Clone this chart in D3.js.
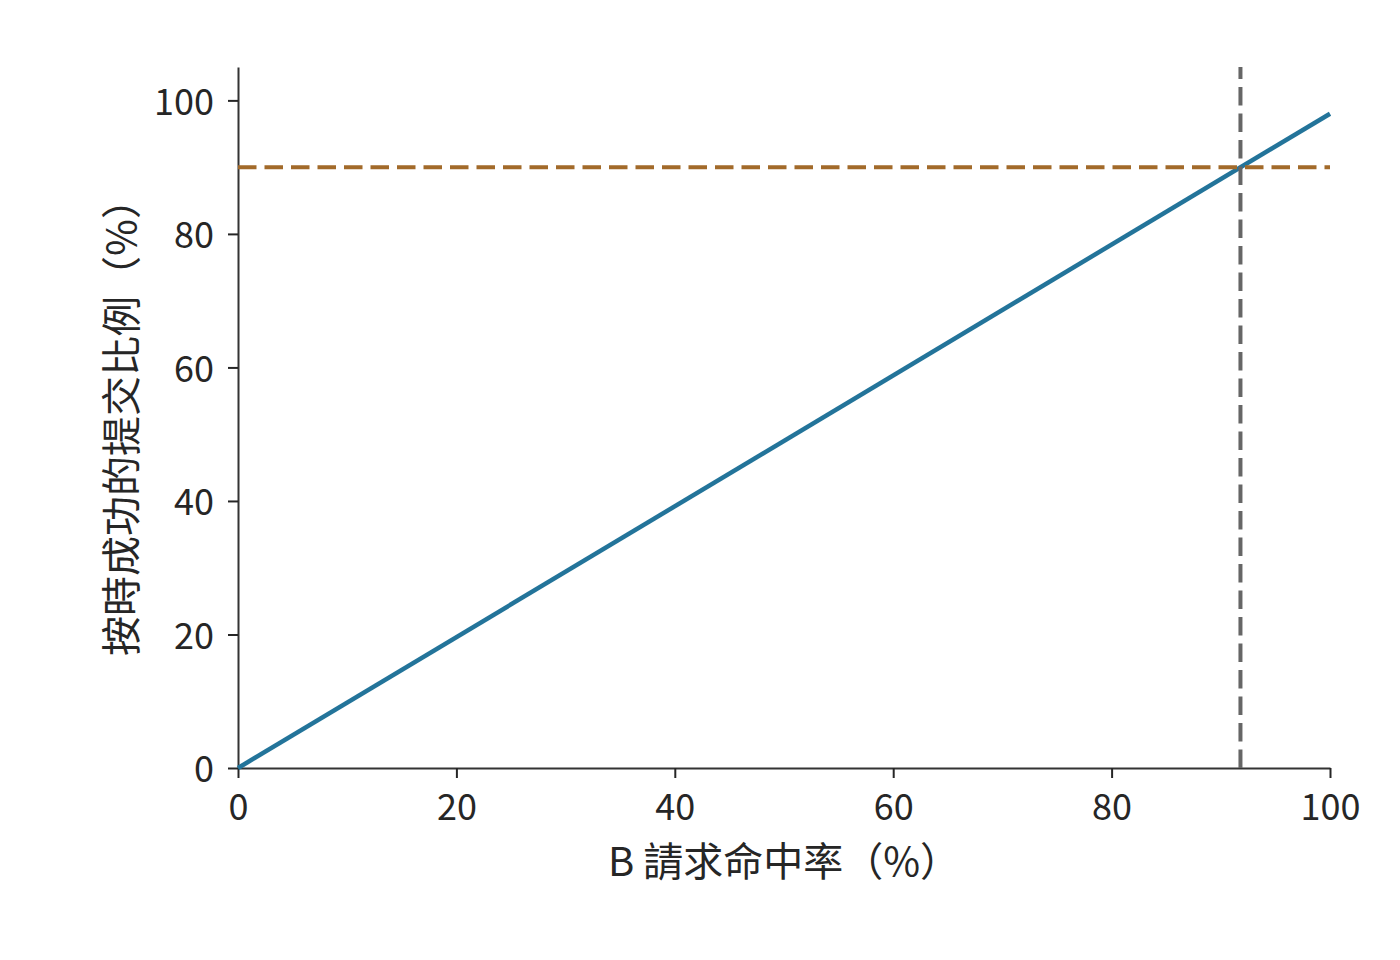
<!DOCTYPE html>
<html>
  <head>
    <meta charset="utf-8">
    <script type="text/javascript" src="https://d3js.org/d3.v7.min.js"></script>
    <style>
        body{ margin:0; background:#fff; }
        svg { display:block; }
        text { font-family: "Noto Sans CJK TC", "Noto Sans", sans-serif; fill:#262626; }
    </style>
  </head>
  <body>
    <script type="text/javascript">
      // data
      var hitRate = [0, 100];            // B 請求命中率 (%)
      var onTime  = [0, 98];             // 按時成功的提交比例 (%)
      var targetY = 90;                  // target line
      var crossX  = 91.8;                // where the line reaches the target
      var xTicks = [0, 20, 40, 60, 80, 100];
      var yTicks = [0, 20, 40, 60, 80, 100];
      var xLabel = "B 請求命中率（%）";
      var yLabel = "按時成功的提交比例（%）";

      var width = 1400, height = 960;
      var margin = {left: 238, right: 70, top: 67, bottom: 192};

      var svg = d3.select("body").append("svg")
          .attr("width", width)
          .attr("height", height);

      var x = d3.scaleLinear().domain([0, 100]).range([margin.left, width - margin.right]);
      var y = d3.scaleLinear().domain([0, 105]).range([height - margin.bottom, margin.top]);

      // x axis
      var gx = svg.append("g")
          .attr("transform", "translate(0," + y(0) + ")")
          .call(d3.axisBottom(x).tickValues(xTicks).tickSize(10).tickPadding(16).tickSizeOuter(0));
      // y axis
      var gy = svg.append("g")
          .attr("transform", "translate(" + x(0) + ",0)")
          .call(d3.axisLeft(y).tickValues(yTicks).tickSize(10).tickPadding(14).tickSizeOuter(0));

      [gx, gy].forEach(function(g){
          g.select(".domain").attr("stroke", "#333").attr("stroke-width", 2);
          g.selectAll(".tick line").attr("stroke", "#262626").attr("stroke-width", 2);
          g.selectAll(".tick text").attr("font-size", 36).attr("fill", "#262626")
            .style("font-family", "'Noto Sans CJK TC', sans-serif");
      });
      gy.selectAll(".tick text").attr("dy", "0.38em");

      // line
      var line = d3.line()
          .x(function(d, i){ return x(hitRate[i]); })
          .y(function(d){ return y(d); });

      svg.append("path")
          .datum(onTime)
          .attr("d", line)
          .attr("fill", "none")
          .attr("stroke", "#23749a")
          .attr("stroke-width", 4.5);

      // horizontal target line
      svg.append("line")
          .attr("x1", x(0)).attr("x2", x(100))
          .attr("y1", y(targetY)).attr("y2", y(targetY))
          .attr("stroke", "#a26a2a")
          .attr("stroke-width", 4)
          .attr("stroke-dasharray", "18.5,8");

      // vertical crossing line
      svg.append("line")
          .attr("x1", x(crossX)).attr("x2", x(crossX))
          .attr("y1", y(0)).attr("y2", y(105))
          .attr("stroke", "#666666")
          .attr("stroke-width", 4)
          .attr("stroke-dasharray", "18.5,8");

      // axis labels
      svg.append("text")
          .attr("x", (x(0) + x(100)) / 2)
          .attr("y", 876)
          .attr("text-anchor", "middle")
          .attr("font-size", 40)
          .text(xLabel);

      svg.append("text")
          .attr("transform", "translate(136," + (y(0) + y(105)) / 2 + ") rotate(-90)")
          .attr("text-anchor", "middle")
          .attr("font-size", 40)
          .text(yLabel);
    </script>
  </body>
</html>
